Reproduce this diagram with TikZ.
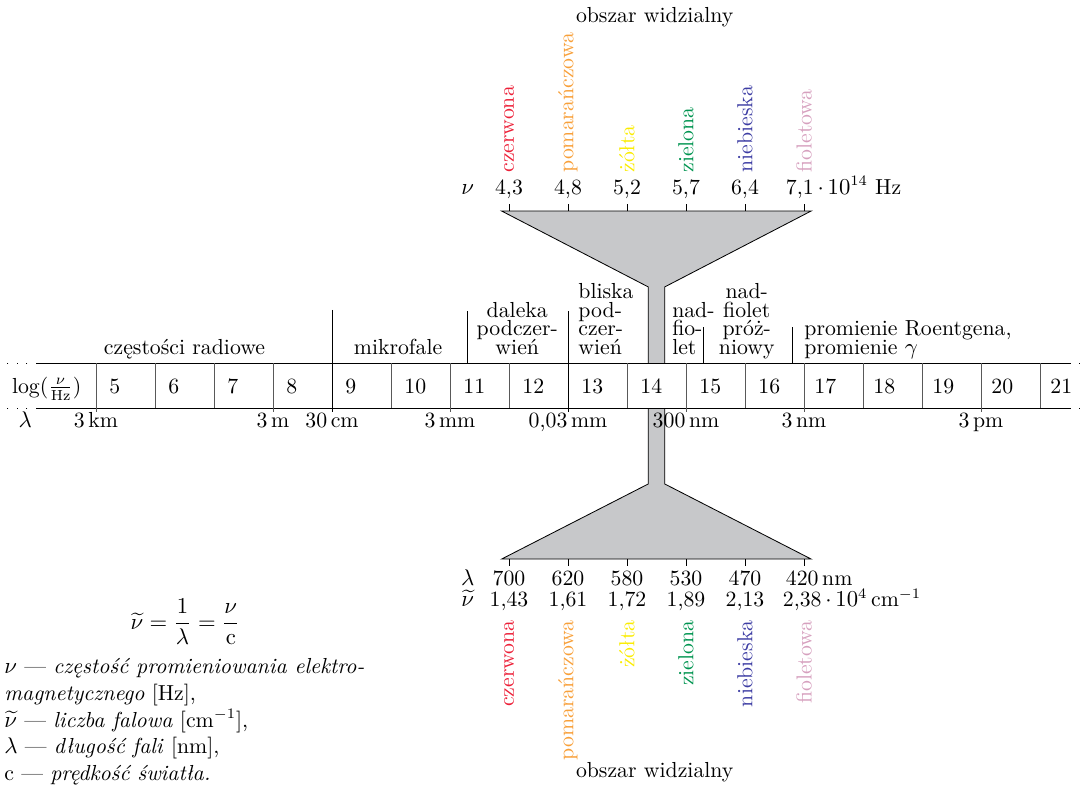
\documentclass[tikz,border=0pt]{standalone}
\usepackage{amsmath}
\definecolor{czerwony}{RGB}{236,32,56}
\definecolor{pomaranczowy}{RGB}{248,160,58}
\definecolor{zolty}{RGB}{250,236,0}
\definecolor{zielony}{RGB}{0,148,80}
\definecolor{niebieski}{RGB}{62,62,164}
\definecolor{fioletowy}{RGB}{214,160,190}
\definecolor{lejek}{RGB}{199,200,202}
\newcommand{\ciasno}{\fontsize{10.5}{9}\selectfont\lineskiplimit-20pt\relax}
\begin{document}
\begin{tikzpicture}[font=\fontsize{10.5}{12.9}\selectfont,
  liczba/.style={anchor=base west, inner sep=0pt},
  opis/.style={anchor=base, inner sep=0pt},
  zakres/.style={anchor=south, inner sep=0pt, text depth=0pt, align=center,
    font=\ciasno},
  kolor/.style={rotate=90, inner sep=0pt},
  podzial/.style={black!65},
  kropki/.style={dash pattern=on 0.5pt off 4.1pt}]
\useasboundingbox (3.373,-7.169) rectangle (21.746,6.153);

\coordinate (lt) at (4,0);
\coordinate (pt) at (21.5,0);
\coordinate (lb) at (4,-0.763);
\coordinate (pb) at (21.5,-0.763);
\coordinate (lte) at (3.42,0);
\coordinate (pte) at (21.746,0);
\coordinate (lbe) at (3.42,-0.763);
\coordinate (pbe) at (21.746,-0.763);

% lejki obszaru widzialnego
\coordinate (gl) at (11.876,2.576);
\coordinate (gp) at (17.12,2.576);
\coordinate (gsl) at (14.36,1.29);
\coordinate (gsp) at (14.64,1.29);
\coordinate (gdl) at (14.36,0);
\coordinate (gdp) at (14.64,0);
\coordinate (dl) at (11.876,-3.322);
\coordinate (dp) at (17.12,-3.322);
\coordinate (dsl) at (14.36,-2.05);
\coordinate (dsp) at (14.64,-2.05);
\coordinate (dgl) at (14.36,-0.763);
\coordinate (dgp) at (14.64,-0.763);
\fill[lejek] (gdl) -- (gsl) -- (gl) -- (gp) -- (gsp) -- (gdp) -- cycle;
\fill[lejek] (dgl) -- (dsl) -- (dl) -- (dp) -- (dsp) -- (dgp) -- cycle;
\draw (gdl) -- (gsl) -- (gl) -- (gp) -- (gsp) -- (gdp);
\draw (dgl) -- (dsl) -- (dl) -- (dp) -- (dsp) -- (dgp);

% pasmo
\draw (lt) -- (pt) (lb) -- (pb);
\draw[kropki] (lt) -- (lte) (lb) -- (lbe) (pt) -- (pte) (pb) -- (pbe);
\foreach \x in {6,7,10,12,14,16,18,19,21}
  \draw[podzial] (\x,0) -- (\x,-0.763);
\foreach \x in {5,8,11,15,17,20}
  \draw[podzial] (\x,0) -- (\x,-0.83);
\draw (9,0.9) -- (9,-0.83);
\draw (13,0.88) -- (13,-0.83);
\draw (11.3,0.88) -- (11.3,0);
\draw (15.29,0.61) -- (15.29,0);
\draw (16.8,0.61) -- (16.8,0);

\node (lg) at (3.57,-0.51) [liczba] {log($\frac{\nu}{\mathrm{Hz}}$)};
\node (c5) at (5.22,-0.51) [liczba] {5};
\node (c6) at (6.22,-0.51) [liczba] {6};
\node (c7) at (7.22,-0.51) [liczba] {7};
\node (c8) at (8.22,-0.51) [liczba] {8};
\node (c9) at (9.22,-0.51) [liczba] {9};
\node (c10) at (10.22,-0.51) [liczba] {10};
\node (c11) at (11.22,-0.51) [liczba] {11};
\node (c12) at (12.22,-0.51) [liczba] {12};
\node (c13) at (13.22,-0.51) [liczba] {13};
\node (c14) at (14.22,-0.51) [liczba] {14};
\node (c15) at (15.22,-0.51) [liczba] {15};
\node (c16) at (16.22,-0.51) [liczba] {16};
\node (c17) at (17.17,-0.51) [liczba] {17};
\node (c18) at (18.17,-0.51) [liczba] {18};
\node (c19) at (19.17,-0.51) [liczba] {19};
\node (c20) at (20.17,-0.51) [liczba] {20};
\node (c21) at (21.17,-0.51) [liczba] {21};

\node (lam) at (3.8,-1.085) [opis] {$\lambda$};
\node (l5) at (5,-1.085) [opis] {3\,km};
\node (l8) at (8,-1.085) [opis] {3\,m};
\node (l9) at (9,-1.085) [opis] {30\,cm};
\node (l11) at (11,-1.085) [opis] {3\,mm};
\node (l13) at (13,-1.085) [opis] {0,03\,mm};
\node (l15) at (15,-1.085) [opis] {300\,nm};
\node (l17) at (17,-1.085) [opis] {3\,nm};
\node (l20) at (20,-1.085) [opis] {3\,pm};

\node (radio) at (6.5,0.14) [zakres] {częstości radiowe};
\node (mikro) at (10.12,0.14) [zakres] {mikrofale};
\node (dalek) at (12.14,0.14) [zakres] {daleka\\podczer-\\wień};
\node (blisk) at (13.17,0.14) [zakres, anchor=south west, align=left] {bliska\\pod-\\czer-\\wień};
\node (nadf) at (14.76,0.14) [zakres, anchor=south west, align=left] {nad-\\fio-\\let};
\node (nadp) at (16.03,0.14) [zakres] {nad-\\fiolet\\próż-\\niowy};
\node (rtg) at (17.0,0.14) [zakres, anchor=south west, align=left] {promienie Roentgena,\\promienie $\gamma$};

% skala nad pasmem
\foreach \x in {12,...,17}
  \draw (\x,2.576) -- (\x,2.70);
\node (nu) at (11.3,2.864) [opis] {$\nu$};
\node (f1) at (12,2.864) [opis] {4,3};
\node (f2) at (13,2.864) [opis] {4,8};
\node (f3) at (14,2.864) [opis] {5,2};
\node (f4) at (15,2.864) [opis] {5,7};
\node (f5) at (16,2.864) [opis] {6,4};
\node (f6) at (16.93,2.864) [opis] {7,1\rlap{$\,\cdot\,10^{14}$ Hz}};
\node (g1) at (12,3.22) [kolor, anchor=west, text=czerwony] {czerwona};
\node (g2) at (13,3.22) [kolor, anchor=west, text=pomaranczowy] {pomarańczowa};
\node (g3) at (14,3.22) [kolor, anchor=west, text=zolty] {żółta};
\node (g4) at (15,3.22) [kolor, anchor=west, text=zielony] {zielona};
\node (g5) at (16,3.22) [kolor, anchor=west, text=niebieski] {niebieska};
\node (g6) at (17,3.22) [kolor, anchor=west, text=fioletowy] {fioletowa};
\node (gora) at (14.47,5.78) [opis] {obszar widzialny};

% skala pod pasmem
\foreach \x in {12,...,17}
  \draw (\x,-3.322) -- (\x,-3.44);
\node (lam2) at (11.3,-3.763) [opis] {$\lambda$};
\node (w1) at (12,-3.763) [opis] {700};
\node (w2) at (13,-3.763) [opis] {620};
\node (w3) at (14,-3.763) [opis] {580};
\node (w4) at (15,-3.763) [opis] {530};
\node (w5) at (16,-3.763) [opis] {470};
\node (w6) at (16.97,-3.763) [opis] {420\rlap{\,nm}};
\node (nut) at (11.3,-4.135) [opis] {$\widetilde{\nu}$};
\node (k1) at (12,-4.135) [opis] {1,43};
\node (k2) at (13,-4.135) [opis] {1,61};
\node (k3) at (14,-4.135) [opis] {1,72};
\node (k4) at (15,-4.135) [opis] {1,89};
\node (k5) at (16,-4.135) [opis] {2,13};
\node (k6) at (16.97,-4.135) [opis] {2,38\rlap{$\,\cdot\,10^4$\,cm$^{-1}$}};
\node (d1) at (12,-4.356) [kolor, anchor=east, text=czerwony] {czerwona};
\node (d2) at (13,-4.356) [kolor, anchor=east, text=pomaranczowy] {pomarańczowa};
\node (d3) at (14,-4.356) [kolor, anchor=east, text=zolty] {żółta};
\node (d4) at (15,-4.356) [kolor, anchor=east, text=zielony] {zielona};
\node (d5) at (16,-4.356) [kolor, anchor=east, text=niebieski] {niebieska};
\node (d6) at (17,-4.356) [kolor, anchor=east, text=fioletowy] {fioletowa};
\node (dol) at (14.47,-7.03) [opis] {obszar widzialny};

% wzor i objasnienia
\node (wzor) at (6.51,-4.39) {$\widetilde{\nu}=\dfrac{1}{\lambda}=\dfrac{\nu}{\mathrm{c}}$};
\node (leg) at (3.44,-5.0) [anchor=north west, inner sep=0pt, align=left]
  {$\nu$ — \textit{częstość promieniowania elektro-}\\
   \textit{magnetycznego} [Hz],\\
   $\widetilde{\nu}$ — \textit{liczba falowa} [cm$^{-1}$],\\
   $\lambda$ — \textit{długość fali} [nm],\\
   c — \textit{prędkość światła.}};
\end{tikzpicture}
\end{document}
